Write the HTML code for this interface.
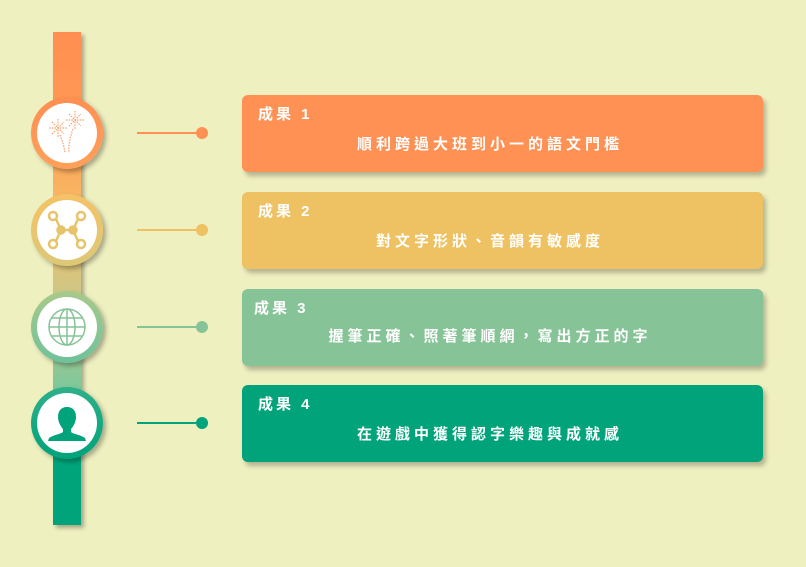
<!DOCTYPE html>
<html><head><meta charset="utf-8"><style>
body{margin:0;width:806px;height:567px;background:#EFF0C0;position:relative;overflow:hidden;font-family:"Liberation Sans","Noto Sans CJK TC",sans-serif;}
.bar{position:absolute;left:53px;top:32px;width:28px;height:493px;background:linear-gradient(#FF8E52 0%,#FF9A55 18%,#F6BE66 38%,#C8C88A 55%,#7FC79A 72%,#00A57A 85%,#00A37A 100%);box-shadow:3px 3px 4px rgba(0,0,0,0.3);}
.c{position:absolute;left:31px;width:72px;height:72px;border-radius:50%;box-shadow:3px 3px 5px rgba(0,0,0,0.3);}
.c .w{position:absolute;left:6px;top:6px;width:60px;height:60px;border-radius:50%;background:#fff;}
.c svg{position:absolute;left:6px;top:6px;}
.ln{position:absolute;left:137px;width:65px;height:2px;}
.dot{position:absolute;left:196px;width:12px;height:12px;border-radius:50%;}
.card{position:absolute;left:242px;width:521px;height:77px;border-radius:6px;box-shadow:3px 4px 5px rgba(0,0,0,0.25);color:#fff;font-weight:bold;}
.t{position:absolute;left:16px;top:8px;font-size:15px;letter-spacing:3px;}
.b{position:absolute;left:0;width:496px;top:38px;text-align:center;font-size:15px;letter-spacing:4px;}
</style></head><body>
<div class="bar"></div>
<div class="c" style="top:97px;background:linear-gradient(#FF8E52,#FFA05A)"><div class="w"></div>
<svg width="60" height="60" stroke="#F7A070" stroke-width="1.2" stroke-dasharray="1.5 1.2" fill="none">
<g transform="translate(21,25)"><path d="M-9 0H9M0-9V9M-6-6L6 6M-6 6L6-6"/></g>
<g transform="translate(38,17)"><path d="M-9 0H9M0-9V9M-6-6L6 6M-6 6L6-6"/></g>
<path d="M23 32Q27 42 28 50M36 26Q31 40 32 50"/></svg></div>
<div class="c" style="top:194px;background:linear-gradient(#F5C266,#DCC876)"><div class="w"></div>
<svg width="60" height="60" fill="none" stroke="#E7C46B" stroke-width="2.5"><circle cx="16" cy="16" r="4"/><circle cx="44" cy="16" r="4"/><circle cx="16" cy="44" r="4"/><circle cx="44" cy="44" r="4"/><path d="M19 19L24 30H36L41 19M19 41L24 30M36 30L41 41"/><circle cx="24" cy="30" r="3.5" fill="#E7C46B"/><circle cx="36" cy="30" r="3.5" fill="#E7C46B"/></svg></div>
<div class="c" style="top:291px;background:linear-gradient(#A9C98B,#6FC29A)"><div class="w"></div>
<svg width="60" height="60" fill="none" stroke="#86C396" stroke-width="1.5"><circle cx="30" cy="30" r="18"/><ellipse cx="30" cy="30" rx="8" ry="18"/><path d="M30 12V48M12 30H48M15 21H45M15 39H45"/></svg></div>
<div class="c" style="top:387px;background:linear-gradient(#2FB08A,#00A37A)"><div class="w"></div>
<svg width="60" height="60"><path fill="#00A37A" d="M30 14c-6 0-9 4-9 10 0 5 3 10 5 12v3c-2 2-10 3-14 6l-1 3h38l-1-3c-4-3-12-4-14-6v-3c2-2 5-7 5-12 0-6-3-10-9-10z"/></svg></div>
<div class="ln" style="top:132px;background:#FF9155"></div><div class="dot" style="top:127px;background:#FF9155"></div>
<div class="ln" style="top:229px;background:#EEC162"></div><div class="dot" style="top:224px;background:#EEC162"></div>
<div class="ln" style="top:326px;background:#86C396"></div><div class="dot" style="top:321px;background:#86C396"></div>
<div class="ln" style="top:422px;background:#00A37A"></div><div class="dot" style="top:417px;background:#00A37A"></div>
<div class="card" style="top:95px;background:#FF9155"><div class="t">成果 1</div><div class="b">順利跨過大班到小一的語文門檻</div></div>
<div class="card" style="top:192px;background:#EEC162"><div class="t">成果 2</div><div class="b">對文字形狀、音韻有敏感度</div></div>
<div class="card" style="top:289px;background:#86C396"><div class="t" style="left:12px">成果 3</div><div class="b" style="top:36px">握筆正確、照著筆順網，寫出方正的字</div></div>
<div class="card" style="top:385px;background:#00A37A"><div class="t">成果 4</div><div class="b">在遊戲中獲得認字樂趣與成就感</div></div>
</body></html>
